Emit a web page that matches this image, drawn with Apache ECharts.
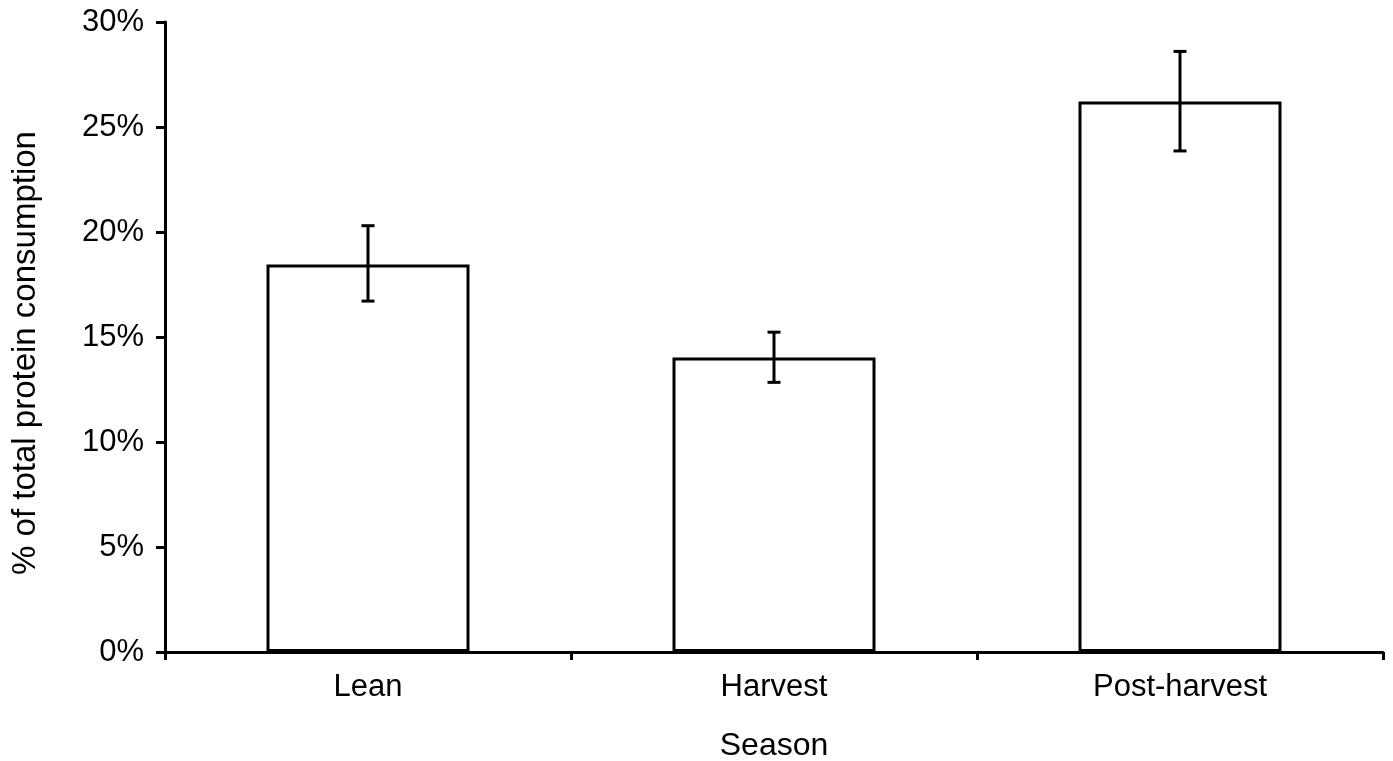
<!DOCTYPE html>
<html><head><meta charset="utf-8">
<script src="https://cdn.jsdelivr.net/npm/echarts@6/dist/echarts.min.js"></script>
<style>html,body{margin:0;padding:0;background:#fff}#c{width:1393px;height:761px}</style>
</head><body><div id="c"></div>
<script>
var categories = ['Lean', 'Harvest', 'Post-harvest'];
var values = [18.45, 14.02, 26.22];
var errLow = [16.71, 12.84, 23.86];
var errHigh = [20.3, 15.23, 28.6];
var yTicks = [0, 5, 10, 15, 20, 25, 30];

var errData = categories.map(function(c, i){ return [i, errLow[i], errHigh[i]]; });
var font = 'Liberation Sans, Arial, sans-serif';
var chart = echarts.init(document.getElementById('c'));
chart.setOption({
  animation: false,
  grid: {left: 165, right: 10, top: 22, bottom: 109, outerBoundsMode: 'none', containLabel: false},
  xAxis: {
    type: 'category', data: categories,
    name: 'Season', nameLocation: 'middle', nameGap: 78,
    nameTextStyle: {fontSize: 32, color: '#000', fontFamily: font},
    axisLine: {lineStyle: {color: '#000', width: 3}},
    axisTick: {show: true, length: 8, lineStyle: {color: '#000', width: 3}},
    axisLabel: {fontSize: 31, color: '#000', fontFamily: font, margin: 20}
  },
  yAxis: {
    type: 'value', min: 0, max: 30, interval: 5,
    name: '% of total protein consumption', nameLocation: 'middle', nameGap: 123,
    nameTextStyle: {fontSize: 33, color: '#000', fontFamily: font, padding: [0, 32, 0, 0]},
    splitLine: {show: false},
    axisLine: {show: true, lineStyle: {color: '#000', width: 3}},
    axisTick: {show: true, length: 9, lineStyle: {color: '#000', width: 3}},
    axisLabel: {fontSize: 31, color: '#000', fontFamily: font, margin: 21,
      formatter: function(v){ return yTicks.indexOf(v) >= 0 ? v + '%' : ''; }}
  },
  series: [{
    type: 'bar', data: values, barWidth: '50%',
    itemStyle: {color: '#fff', borderColor: '#000', borderWidth: 3}
  }, {
    type: 'custom', data: errData, z: 10,
    renderItem: function(params, api){
      var x = api.value(0);
      var lo = api.coord([x, api.value(1)]);
      var hi = api.coord([x, api.value(2)]);
      var hw = 6.5;
      var st = {stroke: '#000', lineWidth: 3};
      return {type: 'group', children: [
        {type: 'line', shape: {x1: lo[0], y1: lo[1], x2: hi[0], y2: hi[1]}, style: st},
        {type: 'line', shape: {x1: lo[0]-hw, y1: lo[1], x2: lo[0]+hw, y2: lo[1]}, style: st},
        {type: 'line', shape: {x1: hi[0]-hw, y1: hi[1], x2: hi[0]+hw, y2: hi[1]}, style: st}
      ]};
    }
  }]
});
</script></body></html>
